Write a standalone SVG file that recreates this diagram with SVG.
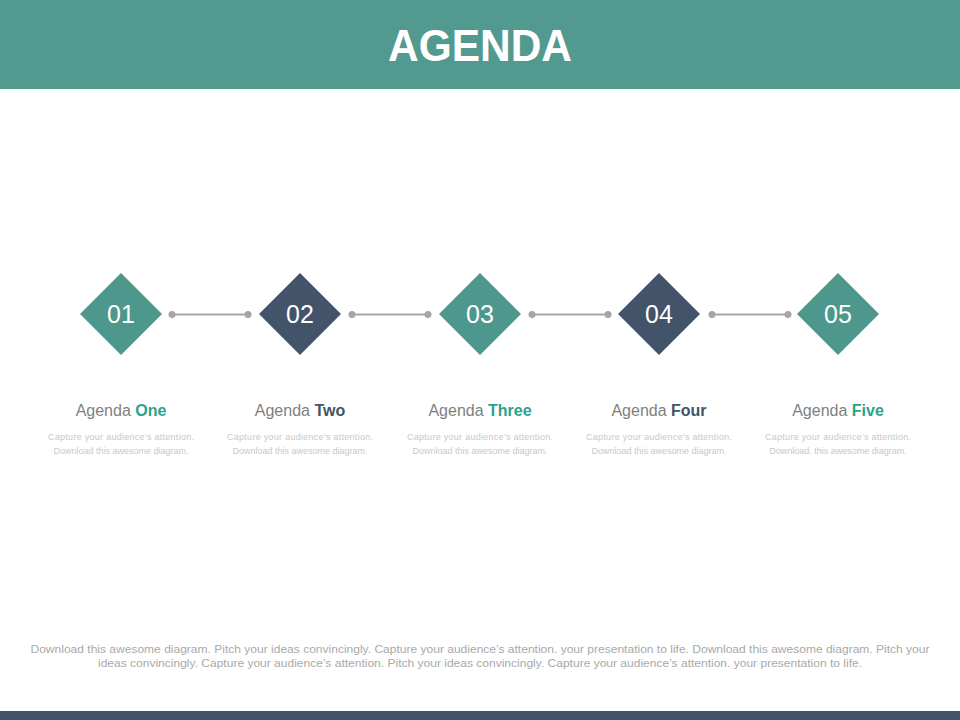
<svg xmlns="http://www.w3.org/2000/svg" width="960" height="720" viewBox="0 0 960 720">
<style>
.num{font-family:"Liberation Sans",Arial,sans-serif;font-size:25px;fill:#fff;text-anchor:middle}
.lbl{font-family:"Liberation Sans",Arial,sans-serif;font-size:16px;fill:#7f7f7f;text-anchor:middle}
.em1{fill:#2aa38d;font-weight:bold}
.em2{fill:#435369;font-weight:bold}
.desc{font-family:"Liberation Sans",Arial,sans-serif;font-size:9px;fill:#c8c8c8;text-anchor:middle}
.foot{font-family:"Liberation Sans",Arial,sans-serif;font-size:11px;fill:#a9a9a9;text-anchor:middle}
.teal{fill:#4e978c}
.dark{fill:#435369}
.ln{stroke:#a6a6a6;stroke-width:2}
.dot{fill:#a6a6a6}
</style>
<rect x="0" y="0" width="960" height="720" fill="#fff"/>
<rect x="0" y="0" width="960" height="89" fill="#529a8f"/>
<text x="480" y="61" font-family="Liberation Sans,Arial,sans-serif" font-size="45" font-weight="bold" fill="#fff" text-anchor="middle" textLength="184" lengthAdjust="spacingAndGlyphs">AGENDA</text>
<rect x="0" y="711" width="960" height="9" fill="#435369"/>
<g id="connectors">
<line class="ln" x1="172" y1="314.5" x2="248" y2="314.5"/><circle class="dot" cx="172" cy="314.5" r="3.5"/><circle class="dot" cx="248" cy="314.5" r="3.5"/>
<line class="ln" x1="352" y1="314.5" x2="428" y2="314.5"/><circle class="dot" cx="352" cy="314.5" r="3.5"/><circle class="dot" cx="428" cy="314.5" r="3.5"/>
<line class="ln" x1="532" y1="314.5" x2="608" y2="314.5"/><circle class="dot" cx="532" cy="314.5" r="3.5"/><circle class="dot" cx="608" cy="314.5" r="3.5"/>
<line class="ln" x1="712" y1="314.5" x2="788" y2="314.5"/><circle class="dot" cx="712" cy="314.5" r="3.5"/><circle class="dot" cx="788" cy="314.5" r="3.5"/>
</g>
<g id="node1">
<polygon class="teal" points="121,273 162,314 121,355 80,314"/>
<text class="num" x="121" y="323">01</text>
<text class="lbl" x="121" y="416">Agenda <tspan class="em1">One</tspan></text>
<text class="desc" x="121" y="440" textLength="146" lengthAdjust="spacing">Capture your audience's attention.</text>
<text class="desc" x="121" y="454">Download this awesome diagram.</text>
</g>
<g id="node2">
<polygon class="dark" points="300,273 341,314 300,355 259,314"/>
<text class="num" x="300" y="323">02</text>
<text class="lbl" x="300" y="416">Agenda <tspan class="em2">Two</tspan></text>
<text class="desc" x="300" y="440" textLength="146" lengthAdjust="spacing">Capture your audience's attention.</text>
<text class="desc" x="300" y="454">Download this awesome diagram.</text>
</g>
<g id="node3">
<polygon class="teal" points="480,273 521,314 480,355 439,314"/>
<text class="num" x="480" y="323">03</text>
<text class="lbl" x="480" y="416">Agenda <tspan class="em1">Three</tspan></text>
<text class="desc" x="480" y="440" textLength="146" lengthAdjust="spacing">Capture your audience's attention.</text>
<text class="desc" x="480" y="454">Download this awesome diagram.</text>
</g>
<g id="node4">
<polygon class="dark" points="659,273 700,314 659,355 618,314"/>
<text class="num" x="659" y="323">04</text>
<text class="lbl" x="659" y="416">Agenda <tspan class="em2">Four</tspan></text>
<text class="desc" x="659" y="440" textLength="146" lengthAdjust="spacing">Capture your audience's attention.</text>
<text class="desc" x="659" y="454">Download this awesome diagram.</text>
</g>
<g id="node5">
<polygon class="teal" points="838,273 879,314 838,355 797,314"/>
<text class="num" x="838" y="323">05</text>
<text class="lbl" x="838" y="416">Agenda <tspan class="em1">Five</tspan></text>
<text class="desc" x="838" y="440" textLength="146" lengthAdjust="spacing">Capture your audience's attention.</text>
<text class="desc" x="838" y="454">Download. this awesome diagram.</text>
</g>
<text class="foot" x="480" y="653" textLength="899" lengthAdjust="spacingAndGlyphs">Download this awesome diagram. Pitch your ideas convincingly. Capture your audience’s attention. your presentation to life. Download this awesome diagram. Pitch your</text>
<text class="foot" x="480" y="667" textLength="764" lengthAdjust="spacingAndGlyphs">ideas convincingly. Capture your audience’s attention. Pitch your ideas convincingly. Capture your audience’s attention. your presentation to life.</text>
</svg>
